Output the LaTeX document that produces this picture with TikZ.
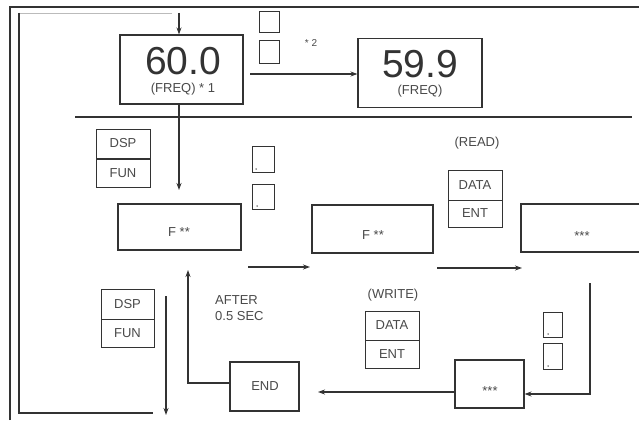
\documentclass[tikz,border=0pt]{standalone}
\usepackage{fontspec}
\setmainfont{Liberation Sans}
\usepackage{pdfrender}
\usetikzlibrary{arrows.meta}
\definecolor{ink}{HTML}{333333}
\definecolor{txt}{HTML}{4A4A4A}
\definecolor{faint}{HTML}{BBBBBB}
\tikzset{
  box/.style={draw=ink, line width=1.1pt, rectangle, inner sep=0pt},
  key/.style={draw=ink, line width=1pt, rectangle, inner sep=0pt, minimum width=54pt, minimum height=29pt, font=\fontsize{13}{15}\selectfont, text=txt},
  sq/.style={draw=ink, line width=1pt, rectangle, inner sep=0pt},
  lbl/.style={inner sep=0pt, text=txt, font=\fontsize{13}{15}\selectfont},
  big/.style={inner sep=0pt, text=ink, font=\fontsize{39}{42}\selectfont},
  conn/.style={draw=ink, line width=1.1pt},
  arr/.style={conn, -{Stealth[length=7pt,width=5pt]}},
  frame/.style={draw=ink, line width=1.6pt},
  dotmark/.style={fill=ink, inner sep=0pt, minimum size=1.5pt, circle}
}
\newcommand{\hollow}[1]{\textpdfrender{TextRenderingMode=1,LineWidth=1.3pt}{#1}}
\begin{document}
\begin{tikzpicture}[x=1pt,y=-1pt]
\useasboundingbox[fill=white] (0,0) rectangle (639,420);
% frame
\coordinate (fo1) at (10,420); \coordinate (fo2) at (10,7); \coordinate (fo3) at (639,7);
\draw[frame] (fo1) -- (fo2) -- (fo3);
\coordinate (fi1) at (19,13); \coordinate (fi2) at (19,413); \coordinate (fi3) at (153,413);
\coordinate (fi4) at (172,13);
\draw[draw=faint, line width=0.8pt] (fi4) -- (fi1);
\draw[conn, line width=1.3pt] (fi1) -- (fi2) -- (fi3);
% separator
\coordinate (sepL) at (75,117); \coordinate (sepR) at (632,117);
\draw[conn] (sepL) -- (sepR);
% top boxes
\node[box, minimum width=123pt, minimum height=69pt] (f60) at (181.5,69.5) {};
\node[big] (t60) at (183,61) {\hollow{60.0}};
\node[lbl] (t60b) at (183,89) {(FREQ) * 1};
\node[box, minimum width=124pt, minimum height=69pt] (f59) at (420,73) {};
\node[big] (t59) at (420,64) {\hollow{59.9}};
\node[lbl] (t59b) at (420,91) {(FREQ)};
\node[sq, minimum width=20pt, minimum height=21pt] (k1) at (269,22.5) {};
\node[sq, minimum width=20pt, minimum height=22pt] (k2) at (269,52) {};
\node[lbl, font=\fontsize{10}{12}\selectfont] (n2) at (311,43) {* 2};
% top connectors
\coordinate (in) at (179,13);
\draw[arr] (in) -- (in |- f60.north);
\coordinate (s2) at (250,74);
\draw[arr] (s2) -- (s2 -| f59.west);
\coordinate (d1a) at (179,104); \coordinate (d1b) at (179,190);
\draw[arr] (d1a) -- (d1b);
% second row
\node[key] (dsp1) at (123,143.5) {DSP};
\node[key, minimum height=28pt] (fun1) at (123,173) {FUN};
\node[box, minimum width=123pt, minimum height=46pt] (F1) at (179.5,227) {};
\node[lbl] (tF1) at (179,232) {F **};
\node[sq, minimum width=22pt, minimum height=26pt] (k3) at (263,159) {};
\node[sq, minimum width=22pt, minimum height=25pt] (k4) at (263,196.5) {};
\node[dotmark] (m3) at (256,169) {};
\node[dotmark] (m4) at (257,206) {};
\node[box, minimum width=121pt, minimum height=48pt] (F2) at (372.5,229) {};
\node[lbl] (tF2) at (373,235) {F **};
\node[lbl] (rd) at (477,143) {(READ)};
\node[key, minimum height=30pt] (data1) at (475,185) {DATA};
\node[key, minimum height=27pt] (ent1) at (475,213.5) {ENT};
\node[box, minimum width=130pt, minimum height=48pt] (R3) at (586,228) {};
\node[lbl] (tR3) at (582,236) {***};
\coordinate (a1a) at (248,267); \coordinate (a1b) at (310,267);
\draw[arr] (a1a) -- (a1b);
\coordinate (a2a) at (437,268); \coordinate (a2b) at (522,268);
\draw[arr] (a2a) -- (a2b);
% third row
\node[box, minimum width=69pt, minimum height=48pt] (S3) at (489.5,384) {};
\node[lbl] (tS3) at (490,391) {***};
\node[sq, minimum width=19pt, minimum height=25pt] (k5) at (552.5,324.5) {};
\node[sq, minimum width=19pt, minimum height=26pt] (k6) at (552.5,356) {};
\node[dotmark] (m5) at (548,334) {};
\node[dotmark] (m6) at (548,366) {};
\coordinate (r1) at (590,283); \coordinate (r2) at (590,394);
\draw[arr] (r1) -- (r2) -- (r2 -| S3.east);
\node[lbl] (wr) at (393,295) {(WRITE)};
\node[key, minimum height=29pt] (data2) at (392,325.5) {DATA};
\node[key, minimum height=28pt] (ent2) at (392,354) {ENT};
\node[box, minimum width=69pt, minimum height=49pt] (END) at (264.5,386.5) {};
\node[lbl] (tEND) at (265,386) {END};
\coordinate (b1) at (455,392); \coordinate (b2) at (318,392);
\draw[arr] (b1) -- (b2);
\coordinate (c1) at (230,383); \coordinate (c2) at (188,383); \coordinate (c3) at (188,270);
\draw[arr] (c1) -- (c2) -- (c3);
\node[lbl, align=left, anchor=west] (aft) at (215,308) {AFTER\\[1pt]0.5 SEC};
\node[key, minimum width=53pt, minimum height=30pt] (dsp2) at (127.5,304) {DSP};
\node[key, minimum width=53pt, minimum height=28pt] (fun2) at (127.5,333) {FUN};
\coordinate (e1) at (166,296); \coordinate (e2) at (166,415);
\draw[arr] (e1) -- (e2);
\end{tikzpicture}
\end{document}
